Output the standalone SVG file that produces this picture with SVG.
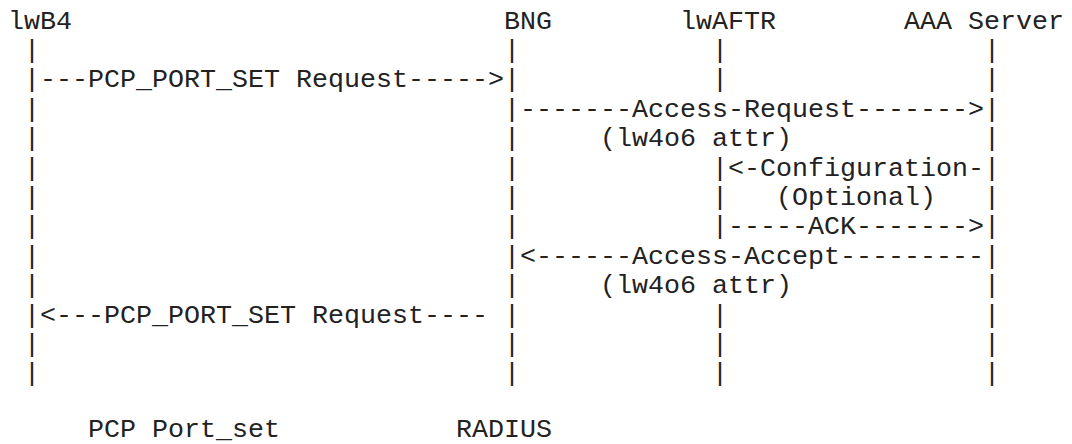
<svg xmlns="http://www.w3.org/2000/svg" width="1072" height="444" viewBox="0 0 1072 444">
  <style>
    text { font-family: "Liberation Mono", "Courier New", "DejaVu Sans Mono", monospace; font-size: 26.667px; fill: #222; white-space: pre; }
  </style>
  <rect width="1072" height="444" fill="#fff"/>

  <!-- monospace grid: column c starts at x = 8 + 16c, row r has baseline y = 28.5 + 29.4r -->

  <g id="lwB4">
    <text x="8" y="28.5">lwB4</text>
    <text class="lifeline">
      <tspan x="24" y="57.9">|</tspan><tspan x="24" y="87.3">|</tspan><tspan x="24" y="116.7">|</tspan>
      <tspan x="24" y="146.1">|</tspan><tspan x="24" y="175.5">|</tspan><tspan x="24" y="204.9">|</tspan>
      <tspan x="24" y="234.3">|</tspan><tspan x="24" y="263.7">|</tspan><tspan x="24" y="293.1">|</tspan>
      <tspan x="24" y="322.5">|</tspan><tspan x="24" y="351.9">|</tspan><tspan x="24" y="381.3">|</tspan>
    </text>
  </g>

  <g id="BNG">
    <text x="504" y="28.5">BNG</text>
    <text class="lifeline">
      <tspan x="504" y="57.9">|</tspan><tspan x="504" y="87.3">|</tspan><tspan x="504" y="116.7">|</tspan>
      <tspan x="504" y="146.1">|</tspan><tspan x="504" y="175.5">|</tspan><tspan x="504" y="204.9">|</tspan>
      <tspan x="504" y="234.3">|</tspan><tspan x="504" y="263.7">|</tspan><tspan x="504" y="293.1">|</tspan>
      <tspan x="504" y="322.5">|</tspan><tspan x="504" y="351.9">|</tspan><tspan x="504" y="381.3">|</tspan>
    </text>
  </g>

  <g id="lwAFTR">
    <text x="680" y="28.5">lwAFTR</text>
    <text class="lifeline">
      <tspan x="712" y="57.9">|</tspan><tspan x="712" y="87.3">|</tspan>
      <tspan x="712" y="175.5">|</tspan><tspan x="712" y="204.9">|</tspan><tspan x="712" y="234.3">|</tspan>
      <tspan x="712" y="322.5">|</tspan><tspan x="712" y="351.9">|</tspan><tspan x="712" y="381.3">|</tspan>
    </text>
  </g>

  <g id="AAA-Server">
    <text x="904" y="28.5">AAA Server</text>
    <text class="lifeline">
      <tspan x="984" y="57.9">|</tspan><tspan x="984" y="87.3">|</tspan><tspan x="984" y="116.7">|</tspan>
      <tspan x="984" y="146.1">|</tspan><tspan x="984" y="175.5">|</tspan><tspan x="984" y="204.9">|</tspan>
      <tspan x="984" y="234.3">|</tspan><tspan x="984" y="263.7">|</tspan><tspan x="984" y="293.1">|</tspan>
      <tspan x="984" y="322.5">|</tspan><tspan x="984" y="351.9">|</tspan><tspan x="984" y="381.3">|</tspan>
    </text>
  </g>

  <g id="connectors">
    <text x="40" y="87.3">---PCP_PORT_SET Request-----&gt;</text>
    <text x="520" y="116.7">-------Access-Request-------&gt;</text>
    <text x="600" y="146.1">(lw4o6 attr)</text>
    <text x="728" y="175.5">&lt;-Configuration-</text>
    <text x="776" y="204.9">(Optional)</text>
    <text x="728" y="234.3">-----ACK-------&gt;</text>
    <text x="520" y="263.7">&lt;------Access-Accept---------</text>
    <text x="600" y="293.1">(lw4o6 attr)</text>
    <text x="40" y="322.5">&lt;---PCP_PORT_SET Request----</text>
  </g>

  <g id="protocol-labels">
    <text x="88" y="437">PCP Port_set</text>
    <text x="456" y="437">RADIUS</text>
  </g>
</svg>
